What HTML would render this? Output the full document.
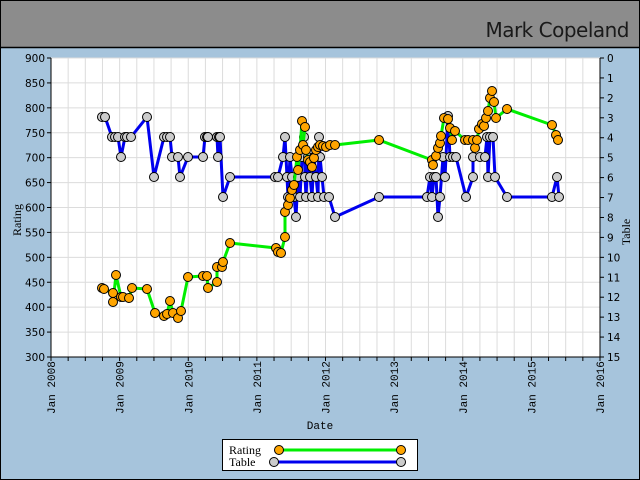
<!DOCTYPE html>
<html><head><meta charset="utf-8"><style>
html,body{margin:0;padding:0;background:#a6c4dc}
svg{display:block}
</style></head><body>
<svg id="s" width="640" height="480" xmlns="http://www.w3.org/2000/svg" font-family="DejaVu Sans, sans-serif">
<rect x="0" y="0" width="640" height="480" fill="#a6c4dc"/>
<rect x="0.5" y="0.5" width="639" height="47" fill="#8c8c8c" stroke="#000" stroke-width="1"/>
<line x1="0" y1="47.5" x2="640" y2="47.5" stroke="#000" stroke-width="1.5"/>
<rect x="0.5" y="0.5" width="639" height="479" fill="none" stroke="#000" stroke-width="1"/>
<text x="629" y="37" text-anchor="end" font-size="20" font-family="DejaVu Sans, sans-serif" font-weight="normal" fill="#1a1a1a" letter-spacing="-0.5">Mark Copeland</text>
<rect x="51" y="58" width="549" height="299" fill="#fff"/>
<g id="grid" stroke="#dcdcdc" stroke-width="1"></g>
<g id="axes" stroke="#000" stroke-width="1" font-size="10.5" fill="#000"></g>
<g id="blue"></g>
<g id="green"></g>
<text x="320" y="429" text-anchor="middle" font-size="11" font-family="Liberation Mono, monospace">Date</text>
<text transform="translate(21,220) rotate(-90)" text-anchor="middle" font-size="12" font-family="Liberation Serif, serif">Rating</text>
<text transform="translate(630,232) rotate(-90)" text-anchor="middle" font-size="12" font-family="Liberation Serif, serif">Table</text>
<rect x="222.5" y="439.5" width="195" height="31" fill="#fff" stroke="#000"/>
<text x="229" y="454" font-size="12" font-family="Liberation Serif, serif">Rating</text>
<text x="229" y="466" font-size="12" font-family="Liberation Serif, serif">Table</text>
<line x1="279" y1="450" x2="401" y2="450" stroke="#00ee00" stroke-width="3"/>
<line x1="274" y1="462" x2="401" y2="462" stroke="#0000ee" stroke-width="3"/>
<circle cx="279" cy="450" r="4.5" fill="#ffa500" stroke="#000"/>
<circle cx="401" cy="450" r="4.5" fill="#ffa500" stroke="#000"/>
<circle cx="274" cy="462" r="4.5" fill="#ccc" stroke="#000"/>
<circle cx="401" cy="462" r="4.5" fill="#ccc" stroke="#000"/>
</svg>
<script>
var NS="http://www.w3.org/2000/svg";
function el(p,t,a,txt){var e=document.createElementNS(NS,t);for(var k in a)e.setAttribute(k,a[k]);if(txt!=null)e.textContent=txt;document.getElementById(p).appendChild(e);return e;}
var L=51,R=600,T=58,B=357,yr=(R-L)/8;
for(var i=0;i<=32;i++){var x=L+i*yr/4;el('grid','line',{x1:x,y1:T,x2:x,y2:B});}
for(var v=300;v<=900;v+=50){var y=T+(900-v)*(B-T)/600;el('grid','line',{x1:L,y1:y,x2:R,y2:y});
 el('axes','line',{x1:L-4,y1:y,x2:L,y2:y});
 el('axes','text',{x:L-6,y:y+4,'text-anchor':'end',stroke:'none','font-family':'DejaVu Sans, sans-serif'},v);}
for(var t=0;t<=15;t++){var y=T+t*(B-T)/15;el('axes','line',{x1:R,y1:y,x2:R+4,y2:y});
 el('axes','text',{x:R+7,y:y+4,stroke:'none'},t);}
el('axes','line',{x1:L,y1:T,x2:L,y2:B});el('axes','line',{x1:R,y1:T,x2:R,y2:B});el('axes','line',{x1:L,y1:B,x2:R,y2:B});
for(var i=0;i<=32;i++){var x=L+i*yr/4;el('axes','line',{x1:x,y1:B,x2:x,y2:B+4});}
for(var i=0;i<=8;i++){var x=L+i*yr;el('axes','text',{transform:'translate('+(x+4)+',414) rotate(-90)',stroke:'none','font-family':'Liberation Mono, monospace','font-size':'11'},'Jan '+(2008+i));}
var G=[[102,288],[104,289],[113,293],[113,302],[116,275],[121,297],[123,297],[129,298],[132,288],[147,289],[155,313],[164,316],[167,314],[170,301],[173,313],[178,318],[181,311],[188,277],[203,276],[207,276],[208,288],[217,282],[217,267],[222,267],[223,262],[230,243],[276,248],[278,252],[281,253],[285,237],[285,212],[288,205],[290,198],[292,190],[294,185],[297,157],[298,170],[300,150],[302,121],[305,127],[303,145],[306,150],[308,160],[310,162],[312,167],[314,158],[316,150],[318,147],[320,145],[323,146],[326,147],[330,145],[335,145],[379,140],[432,160],[433,165],[436,156],[438,148],[440,143],[441,136],[444,118],[448,119],[450,128],[452,140],[455,131],[465,140],[468,140],[473,140],[475,148],[477,140],[479,129],[482,124],[484,126],[486,118],[488,111],[490,98],[492,91],[494,102],[496,118],[507,109],[552,125],[556,135],[558,140]];
var B2=[[102,117],[105,117],[112,137],[115,137],[118,137],[121,157],[125,137],[127,137],[131,137],[147,117],[154,177],[164,137],[167,137],[170,137],[172,157],[178,157],[180,177],[188,157],[203,157],[205,137],[207,137],[208,137],[217,137],[218,157],[219,137],[220,137],[223,197],[230,177],[275,177],[278,177],[283,157],[285,137],[287,177],[288,197],[290,157],[292,177],[294,197],[296,217],[298,177],[300,197],[302,157],[304,137],[305,177],[306,197],[308,157],[310,177],[312,197],[314,157],[316,177],[318,197],[319,137],[320,157],[322,177],[324,197],[329,197],[335,217],[379,197],[427,197],[430,177],[432,197],[434,177],[436,177],[438,217],[440,197],[443,157],[445,177],[448,116],[450,157],[453,157],[456,157],[466,197],[473,177],[473,157],[480,157],[485,157],[487,137],[488,177],[490,137],[493,137],[495,177],[507,197],[552,197],[557,177],[559,197]];
function draw(g,pts,col,fill){var d=pts.map(function(p){return p.join(',')}).join(' ');
 el(g,'polyline',{points:d,fill:'none',stroke:col,'stroke-width':3,'stroke-linejoin':'round'});
 pts.forEach(function(p){el(g,'circle',{cx:p[0],cy:p[1],r:4.5,fill:fill,stroke:'#000','stroke-width':1});});}
draw('blue',B2,'#0000ee','#cccccc');
draw('green',G,'#00ee00','#ffa500');
</script>
</body></html>
